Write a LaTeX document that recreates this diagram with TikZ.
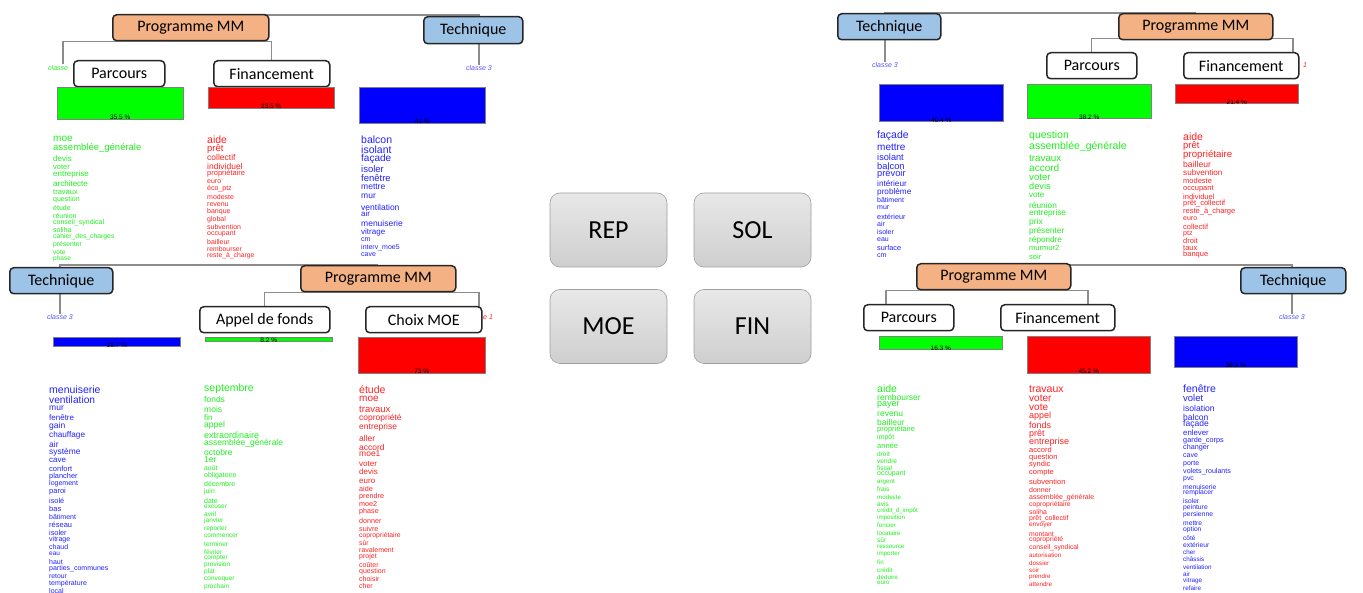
\documentclass[tikz,border=0pt]{standalone}
\usepackage{fontspec}
\setmainfont{Carlito}
\newfontfamily\wfont{Liberation Sans}
\usetikzlibrary{calc}
\pgfdeclarelayer{background}
\pgfsetlayers{background,main}
\definecolor{pmmfill}{HTML}{F4B183}
\definecolor{techfill}{HTML}{9DC3E6}
\definecolor{wgreen}{HTML}{22EE22}
\definecolor{wred}{HTML}{FF2222}
\definecolor{wblue}{HTML}{2222FF}
\definecolor{cblue}{HTML}{5555FF}
\definecolor{dendro}{HTML}{8C8C8C}
\tikzset{
 box/.style={draw=black!85, line width=1.5pt, rounded corners=4pt, inner sep=0pt, anchor=north west, minimum height=26pt, font=\fontsize{16}{16}\selectfont},
 pmm/.style={box, fill=pmmfill},
 tech/.style={box, fill=techfill},
 cls/.style={box, fill=white},
 bar/.style={draw=gray, line width=0.6pt, inner sep=0pt, anchor=north west},
 pct/.style={font=\wfont\fontsize{6.5}{6.5}\selectfont, inner sep=0pt, text=black},
 word/.style={anchor=west, inner sep=0pt},
 clabel/.style={font=\wfont\itshape\fontsize{7}{7}\selectfont, inner sep=0pt},
 dend/.style={draw=dendro, line width=1.2pt},
 quad/.style={draw=gray!75, line width=0.6pt, rounded corners=10pt, top color=gray!18, bottom color=gray!38, minimum width=117pt, minimum height=74pt, inner sep=0pt, font=\fontsize{26}{26}\selectfont}
}
\newcommand\wcol[4]{%
 \foreach \wy/\wz/\wt [count=\wn] in {#4} {\node[word, text=#3, font=\wfont\fontsize{\wz}{\wz}\selectfont] (#1\wn) at (#2,\wy) {\wt};}}
\begin{document}
\begin{tikzpicture}[x=1pt,y=-1pt]
\useasboundingbox (0,0) rectangle (1363,593);

% ---------- class labels and junctions ----------
\begin{pgfonlayer}{background}
\fill[white] (0,0) rectangle (1363,593);
\node[clabel, text=wgreen, anchor=west] (tlc2) at (48,68) {classe};
\node[clabel, text=cblue] (tlc3) at (479,68) {classe 3};
\node[clabel, text=cblue] (blc3) at (60,317) {classe 3};
\node[clabel, text=wred, anchor=west] (blc1) at (483,317) {e 1};
\node[clabel, text=cblue] (trc3) at (885,65) {classe 3};
\node[clabel, text=wred, anchor=west] (trc1) at (1303,65) {1};
\node[clabel, text=cblue] (brc3) at (1292,317) {classe 3};
\coordinate (tlk2) at (63,64);
\coordinate (blk1) at (479,313);
\coordinate (trk1) at (1293,61);
\coordinate (brk2) at (886,313);
\coordinate (brk1) at (1088,313);
\end{pgfonlayer}

% ---------- boxes ----------
\node[pmm, minimum width=156pt] (tlpmm) at (112,14) {Programme MM};
\node[tech, minimum width=99pt, minimum height=27pt] (tltech) at (423,16) {Technique};
\node[cls, minimum width=91pt] (tlpar) at (73,60) {Parcours};
\node[cls, minimum width=116pt] (tlfin) at (213,60) {Financement};

\node[tech, minimum width=103pt] (bltech) at (9,267) {Technique};
\node[pmm, minimum width=155pt] (blpmm) at (300,265) {Programme MM};
\node[cls, minimum width=130pt] (blapp) at (199,306) {Appel de fonds};
\node[cls, minimum width=116pt] (blcho) at (365,306) {Choix MOE};

\node[tech, minimum width=103pt] (trtech) at (837,13) {Technique};
\node[pmm, minimum width=154pt] (trpmm) at (1118,13) {Programme MM};
\node[cls, minimum width=90pt] (trpar) at (1046,52) {Parcours};
\node[cls, minimum width=115pt] (trfin) at (1183,52) {Financement};

\node[pmm, minimum width=154pt] (brpmm) at (916,263) {Programme MM};
\node[tech, minimum width=105pt] (brtech) at (1240,267) {Technique};
\node[cls, minimum width=90pt] (brpar) at (863,304) {Parcours};
\node[cls, minimum width=114pt] (brfin) at (1000,304) {Financement};

% ---------- dendrogram connectors ----------
\begin{pgfonlayer}{background}
\draw[dend] (tlc3.north) |- ([yshift=-1pt]tlpmm.north);
\draw[dend] (tlk2) |- (tlpmm.south) -| (tlfin.north);
\draw[dend] (blc3.north) |- (blpmm.north);
\draw[dend] (blapp.north) |- (blpmm.south) -| (blk1);
\draw[dend] (trc3.north) |- (trpmm.north);
\draw[dend] (trpar.north) |- ([yshift=2pt]trpmm.south) -| (trk1);
\draw[dend] (brc3.north) |- ([yshift=-2pt]brpmm.north);
\draw[dend] (brk2) |- (brpmm.south) -| (brk1);
\end{pgfonlayer}

% ---------- bars ----------
\node[bar, fill=green, minimum width=126pt, minimum height=32pt] (tlg) at (57,87) {};
\node[bar, fill=red, minimum width=126pt, minimum height=21pt] (tlr) at (208,87) {};
\node[bar, fill=blue, minimum width=126pt, minimum height=36pt] (tlb) at (359,87) {};
\node[pct] (tlgp) at ([yshift=2.5pt]tlg.south) {35.5 \%};
\node[pct] (tlrp) at ([yshift=2.5pt]tlr.south) {23.5 \%};
\node[pct] (tlbp) at ([yshift=2.5pt]tlb.south) {41 \%};

\node[bar, fill=blue, minimum width=127pt, minimum height=9.5pt] (blb) at (53,337) {};
\node[bar, fill=green, minimum width=127pt, minimum height=4pt] (blg) at (205,337) {};
\node[bar, fill=red, minimum width=127pt, minimum height=36pt] (blr) at (358,337) {};
\node[pct] (blbp) at ([yshift=2pt]blb.south) {18.7 \%};
\node[pct] (blgp) at ([yshift=1pt]blg.south) {8.2 \%};
\node[pct] (blrp) at ([yshift=2.5pt]blr.south) {73 \%};

\node[bar, fill=blue, minimum width=124pt, minimum height=37pt] (trb) at (879,84) {};
\node[bar, fill=green, minimum width=124pt, minimum height=34pt] (trg) at (1027,84) {};
\node[bar, fill=red, minimum width=123pt, minimum height=19pt] (trr) at (1175,84) {};
\node[pct] (trbp) at ([yshift=1.5pt]trb.south) {40.4 \%};
\node[pct] (trgp) at ([yshift=1.5pt]trg.south) {38.2 \%};
\node[pct] (trrp) at ([yshift=1.5pt]trr.south) {21.4 \%};

\node[bar, fill=green, minimum width=123pt, minimum height=13pt] (brg) at (879,336) {};
\node[bar, fill=red, minimum width=123pt, minimum height=37pt] (brr) at (1027,336) {};
\node[bar, fill=blue, minimum width=123pt, minimum height=31pt] (brb) at (1174,336) {};
\node[pct] (brgp) at ([yshift=1.5pt]brg.south) {16.3 \%};
\node[pct] (brrp) at ([yshift=2.5pt]brr.south) {45.2 \%};
\node[pct] (brbp) at ([yshift=2pt]brb.south) {38.5 \%};

% ---------- centre ----------
\node[quad] (rep) at (608.5,230) {REP};
\node[quad] (sol) at (752.5,230) {SOL};
\node[quad] (moe) at (608.5,326.5) {MOE};
\node[quad] (fin) at (752.5,326.5) {FIN};

% ---------- word lists ----------
\wcol{tlw1-}{53}{wgreen}{139/10/moe, 148/9.5/assemblée\_générale, 159/8/devis, 167/7.5/voter, 174/8/entreprise, 184/8/architecte, 192/7.5/travaux, 200/7/question, 208/7/étude, 216/7/réunion, 223/7/conseil\_syndical, 230/7/soliha, 237/6.8/cahier\_des\_charges, 245/6.8/présenter, 252/6.5/vote, 259/6.5/phase}
\wcol{tlw2-}{207}{wred}{140/10.5/aide, 149/9.5/prêt, 157/8.5/collectif, 166/8.5/individuel, 174/7.5/propriétaire, 182/7/euro, 189/7/éco\_ptz, 197/7/modeste, 205/7/revenu, 212/7/banque, 220/7/global, 227/7/subvention, 234/7/occupant, 242/7/bailleur, 249/6.8/rembourser, 256/6.8/reste\_à\_charge}
\wcol{tlw3-}{361}{wblue}{140/10.5/balcon, 150/10.5/isolant, 159/10/façade, 169/9.5/isoler, 178/9.5/fenêtre, 187/8.5/mettre, 196/8.5/mur, 207/8.5/ventilation, 214/8/air, 223/8.5/menuiserie, 232/8/vitrage, 240/7/cm, 248/7/interv\_moe5, 255/7/cave}

\wcol{blw1-}{49}{wblue}{390/10.5/menuiserie, 400/10.2/ventilation, 408/8.5/mur, 418/8/fenêtre, 426/8.5/gain, 435/8.2/chauffage, 444/8.5/air, 452/8.4/système, 460/8/cave, 469/7.5/confort, 477/7.4/plancher, 484/7/logement, 492/7.5/paroi, 501/7.3/isolé, 509/7.5/bas, 517/7/bâtiment, 525/7.5/réseau, 533/7.3/isoler, 540/7/vitrage, 547/7/chaud, 554/6.5/eau, 562/7/haut, 569/7/parties\_communes, 576/6.8/retour, 584/7/température, 591/7/local}
\wcol{blw2-}{204}{wgreen}{389/10.5/septembre, 399/8.5/fonds, 409/8.5/mois, 418/8/fin, 425/8.5/appel, 435/9/extraordinaire, 443/8.5/assemblée\_générale, 452/8.5/octobre, 460/8.5/1er, 468/6.8/août, 476/7/obligatoire, 484/7/décembre, 492/6.8/juin, 501/7/date, 507/6.5/excuser, 514/6.5/avril, 521/6.5/janvier, 529/6.5/reporter, 536/6.5/commencer, 544/6.5/terminer, 552/6.5/février, 558/6.5/compter, 565/6.5/provision, 572/6.5/plat, 579/6.5/convoquer, 587/6.5/prochain}
\wcol{blw3-}{359}{wred}{390/10.5/étude, 399/10/moe, 409/9.5/travaux, 418/8.5/copropriété, 427/8.5/entreprise, 438/8.5/aller, 447/8.5/accord, 454/8.5/moe1, 464/8/voter, 472/8/devis, 481/8/euro, 489/7.2/aide, 497/7.2/prendre, 504/7.2/moe2, 512/7.2/phase, 521/7.2/donner, 529/7.2/suivre, 536/6.8/copropriétaire, 543/6.8/sûr, 550/7/ravalement, 557/7/projet, 565/7/coûter, 572/7/question, 579/7/choisir, 586/7/cher}

\wcol{trw1-}{877}{wblue}{136/10.5/façade, 147/10/mettre, 157/9.2/isolant, 166/9.3/balcon, 174/9.3/prévoir, 184/8.2/intérieur, 192/8.2/problème, 200/7/bâtiment, 208/7/mur, 217/7.3/extérieur, 224/7/air, 232/7/isoler, 240/7/eau, 248/7.3/surface, 256/7/cm}
\wcol{trw2-}{1029}{wgreen}{136/10.5/question, 147/10.5/assemblée\_générale, 158/9.8/travaux, 168/10/accord, 177/9.6/voter, 186/9.2/devis, 195/8/vote, 205/8.3/réunion, 213/8.3/entreprise, 222/8.5/prix, 231/8.3/présenter, 240/8.2/répondre, 248/7.5/murmur2, 257/7.5/soir}
\wcol{trw3-}{1183}{wred}{137/10.5/aide, 146/9.5/prêt, 155/9.7/propriétaire, 164/8.6/bailleur, 173/8.1/subvention, 181/7.5/modeste, 189/7.5/occupant, 197/7.5/individuel, 204/7.5/prêt\_collectif, 212/7.5/reste\_à\_charge, 219/7/euro, 227/7.5/collectif, 234/7/ptz, 241/7.5/droit, 248/7.5/taux, 255/7.5/banque}

\wcol{brw1-}{877}{wgreen}{389/10.5/aide, 397/8.5/rembourser, 405/9/payer, 414/8.5/revenu, 422/8.5/bailleur, 430/7.5/propriétaire, 438/7/impôt, 446/7.5/année, 454/6.5/droit, 461/6.5/vendre, 468/6.5/fiscal, 474/7/occupant, 482/6.2/argent, 489/6.5/frais, 497/6.2/modeste, 504/6.5/avis, 511/6.2/crédit\_d\_impôt, 518/6.2/imposition, 525/6.2/foncier, 533/6.2/locataire, 540/6.5/sûr, 547/6.2/ressource, 554/6.2/importer, 562/6.2/fin, 570/6.2/crédit, 577/6.2/déduire, 583/6.2/euro}
\wcol{brw2-}{1029}{wred}{389/10.5/travaux, 398/10/voter, 407/10/vote, 416/9/appel, 425/9/fonds, 434/9/prêt, 442/9/entreprise, 450/7.5/accord, 458/7.5/question, 465/7.5/syndic, 473/7.5/compte, 482/7.5/subvention, 490/7/donner, 498/7/assemblée\_générale, 505/6.8/copropriétaire, 512/6.8/soliha, 519/7/prêt\_collectif, 525/6.5/envoyer, 534/6.8/montant, 540/6.8/copropriété, 548/6.8/conseil\_syndical, 555/6.2/autorisation, 563/6.2/dossier, 570/6.2/soir, 577/6.2/prendre, 584/6.2/attendre}
\wcol{brw3-}{1183}{wblue}{389/10.5/fenêtre, 398/9.5/volet, 408/8.6/isolation, 417/8.5/balcon, 424/8.5/façade, 433/7.8/enlever, 441/7.3/garde\_corps, 448/7.2/changer, 456/7/cave, 464/7/porte, 472/7.1/volets\_roulants, 479/6.9/pvc, 487/6.8/menuiserie, 493/6.8/remplacer, 501/6.7/isoler, 508/6.8/peinture, 515/6.8/persienne, 523/6.7/mettre, 530/6.7/option, 538/6.5/côté, 545/6.7/extérieur, 552/6.3/cher, 559/6.3/châssis, 567/6.3/ventilation, 574/6.3/air, 581/6.3/vitrage, 588/6.3/refaire}
\end{tikzpicture}
\end{document}
